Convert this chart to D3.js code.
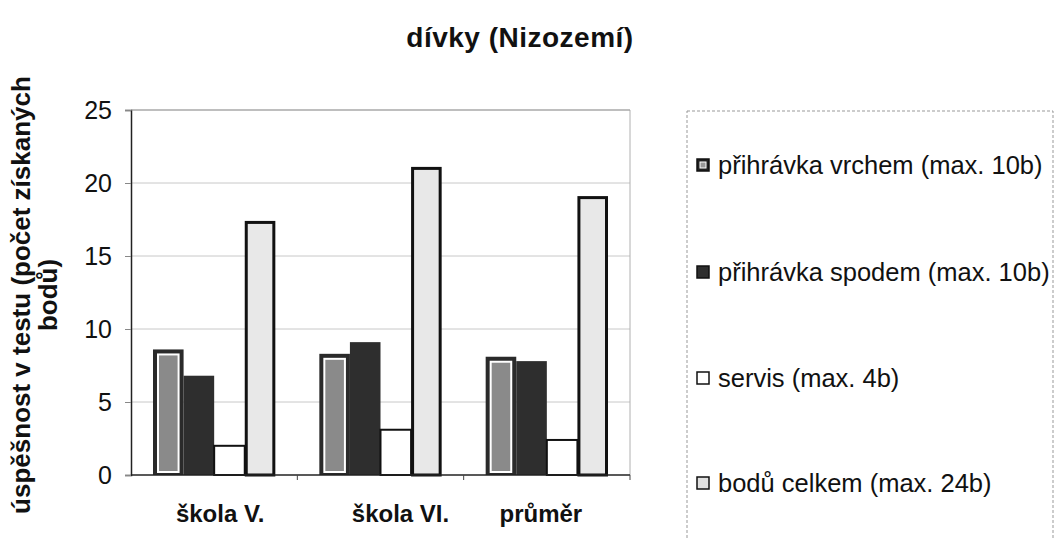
<!DOCTYPE html>
<html>
<head>
<meta charset="utf-8">
<script src="https://cdn.jsdelivr.net/npm/d3@7"></script>
<style>
  body { margin: 0; background: #fff; }
  text { font-family: "Liberation Sans", Arial, sans-serif; }
</style>
</head>
<body>
<script>
var categories = ["škola V.", "škola VI.", "průměr"];
var seriesNames = ["přihrávka vrchem (max. 10b)", "přihrávka spodem (max. 10b)", "servis (max. 4b)", "bodů celkem (max. 24b)"];
var vrchem = [8.6, 8.3, 8.1];
var spodem = [6.8, 9.1, 7.8];
var servis = [2.0, 3.1, 2.4];
var celkem = [17.3, 21.0, 19.0];
var yTicks = [0, 5, 10, 15, 20, 25];

var margin = {top: 110, left: 131},
    width = 499,
    height = 365;

var svg = d3.select("body").append("svg")
    .attr("width", 1054)
    .attr("height", 538);

svg.append("text")
    .attr("x", 520).attr("y", 47)
    .attr("text-anchor", "middle")
    .style("font-size", "28px").style("font-weight", "bold").style("fill", "#111")
    .style("letter-spacing", "0.5px")
    .text("dívky (Nizozemí)");

var g = svg.append("g")
    .attr("transform", "translate(" + margin.left + "," + margin.top + ")");

var x = d3.scaleBand().domain(categories).range([0, width]);
var xs = d3.scaleBand().domain(d3.range(4)).range([22, x.bandwidth() - 22]);
var y = d3.scaleLinear().domain([0, 25]).range([height, 0]);

// grid
g.selectAll(".grid").data(yTicks.slice(1))
  .enter().append("line")
    .attr("x1", 0).attr("x2", width)
    .attr("y1", function(d) { return y(d); })
    .attr("y2", function(d) { return y(d); })
    .style("stroke", "#c8c8c8").style("stroke-width", 1);

g.append("line")
    .attr("x1", width).attr("x2", width).attr("y1", 0).attr("y2", height)
    .style("stroke", "#b0b0b0");

// bars
var groups = g.selectAll(".grp").data(categories)
  .enter().append("g")
    .attr("transform", function(d) { return "translate(" + x(d) + ",0)"; });

groups.each(function(c, i) {
  var gg = d3.select(this);
  var bw = xs.bandwidth();
  // vrchem: black frame, white line, gray fill
  var v = vrchem[i];
  gg.append("rect").attr("x", xs(0)).attr("y", y(v)).attr("width", bw).attr("height", y(0) - y(v))
    .style("fill", "#2a2a2a");
  gg.append("rect").attr("x", xs(0) + 4).attr("y", y(v) + 4).attr("width", bw - 8).attr("height", y(0) - y(v) - 6)
    .style("fill", "#fff");
  gg.append("rect").attr("x", xs(0) + 6).attr("y", y(v) + 6).attr("width", bw - 12).attr("height", y(0) - y(v) - 10)
    .style("fill", "#8a8a8a");
  // spodem
  v = spodem[i];
  gg.append("rect").attr("x", xs(1)).attr("y", y(v)).attr("width", bw).attr("height", y(0) - y(v))
    .style("fill", "#2e2e2e");
  // servis
  v = servis[i];
  gg.append("rect").attr("x", xs(2)).attr("y", y(v)).attr("width", bw).attr("height", y(0) - y(v))
    .style("fill", "#fff").style("stroke", "#111").style("stroke-width", 2);
  // celkem
  v = celkem[i];
  gg.append("rect").attr("x", xs(3) + 1.5).attr("y", y(v)).attr("width", bw - 3).attr("height", y(0) - y(v))
    .style("fill", "#e8e8e8").style("stroke", "#111").style("stroke-width", 3);
});

// axes
var yAxis = d3.axisLeft(y).tickValues(yTicks).tickSize(6).tickPadding(13);
var ya = g.append("g").call(yAxis);
ya.select(".domain").style("stroke", "#222").style("stroke-width", 1.5);
ya.selectAll(".tick line").style("stroke", "#888");
ya.selectAll("text").style("font-size", "25px").style("fill", "#111")
  .style("font-family", "'Liberation Sans', Arial, sans-serif");

g.append("line").attr("x1", 0).attr("x2", width).attr("y1", height).attr("y2", height)
  .style("stroke", "#222").style("stroke-width", 1.5);
g.append("line").attr("x1", 0).attr("x2", width).attr("y1", 0).attr("y2", 0)
  .style("stroke", "#999");

var xAxis = d3.axisBottom(x).tickSize(0).tickPadding(30);
var xa = g.append("g").attr("transform", "translate(0," + height + ")").call(xAxis);
xa.select(".domain").remove();
xa.selectAll("text").style("font-size", "24px").style("font-weight", "bold").style("fill", "#111")
  .style("font-family", "'Liberation Sans', Arial, sans-serif");
xa.selectAll(".tick").attr("transform", function(d, i) {
  return "translate(" + (x(d) + x.bandwidth() / 2 + [6, 20, -6][i]) + ",0)";
});
xa.selectAll(".sep").data(categories.slice(1).concat(["end"]))
  .enter().append("line")
    .attr("x1", function(d) { return d === "end" ? width : x(d); })
    .attr("x2", function(d) { return d === "end" ? width : x(d); })
    .attr("y1", 0).attr("y2", 5)
    .style("stroke", "#444");

// y label
var yl = svg.append("text")
    .attr("transform", "translate(30,295) rotate(-90)")
    .attr("text-anchor", "middle")
    .style("font-size", "26px").style("font-weight", "bold").style("fill", "#111");
yl.append("tspan").attr("x", 0).attr("dy", 0).text("úspěšnost v testu (počet získaných");
yl.append("tspan").attr("x", 0).attr("dy", 27).text("bodů)");

// legend
svg.append("rect")
    .attr("x", 687).attr("y", 111).attr("width", 366).attr("height", 440)
    .style("fill", "none").style("stroke", "#999").style("stroke-dasharray", "3,2");

var legendY = [165, 272, 378, 483];
var leg = svg.selectAll(".leg").data(seriesNames)
  .enter().append("g")
    .attr("transform", function(d, i) { return "translate(697," + legendY[i] + ")"; });

var symFill = ["#222", "#2e2e2e", "#fff", "#e0e0e0"];
leg.append("rect")
    .attr("x", 0).attr("y", -6).attr("width", 12).attr("height", 12)
    .style("fill", function(d, i) { return symFill[i]; })
    .style("stroke", "#111").style("stroke-width", 1.5);
leg.filter(function(d, i) { return i === 0; }).append("rect")
    .attr("x", 3).attr("y", -3).attr("width", 6).attr("height", 6)
    .style("fill", "#999").style("stroke", "#fff").style("stroke-width", 1);
leg.append("text")
    .attr("x", 21).attr("y", 9)
    .style("font-size", "25.5px").style("fill", "#111")
    .text(function(d) { return d; });
</script>
</body>
</html>
